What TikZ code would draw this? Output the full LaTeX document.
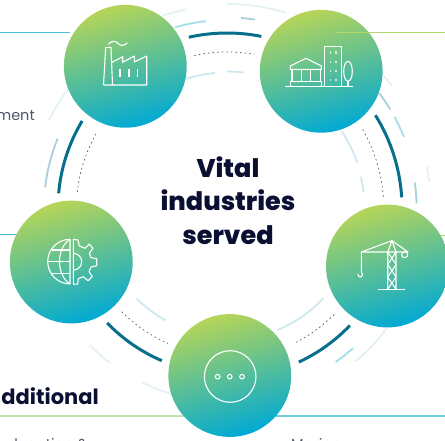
\documentclass[tikz,border=0pt]{standalone}
\usepackage{fontspec}
\setmainfont{Poppins}
\newfontfamily\heavyfont{Poppins ExtraBold}
\definecolor{navy}{HTML}{0B1033}
\definecolor{slate}{HTML}{50556A}
\definecolor{deepteal}{HTML}{076F8C}
\definecolor{faintblue}{HTML}{E4F1F5}
\definecolor{paleblue}{HTML}{CFE7EF}
\definecolor{skyblue}{HTML}{A6DFEA}
\definecolor{greyblue}{HTML}{A9CFDC}
\definecolor{discgreen}{HTML}{B6D558}
\definecolor{discmid}{HTML}{68BC98}
\definecolor{disccyan}{HTML}{00A9D4}
\definecolor{rulecyan}{HTML}{4CC0D8}
\definecolor{rulegreen}{HTML}{B2D66A}
\definecolor{rulepale}{HTML}{C6E1AE}
\definecolor{ruleaqua}{HTML}{6FD0DC}
\tikzset{
  disc/.style={circle,inner sep=0pt,minimum size=122.8pt,
    top color=discgreen,middle color=discmid,bottom color=disccyan,shading angle=16},
  icon/.style={draw=white,line width=1.1pt,line join=round},
  rule/.style={line width=#1},
  bigarc/.style={draw=deepteal,line width=3pt},
  softarc/.style={draw=#1,line width=1.8pt},
  dotarc/.style={draw=slate,line width=0.7pt,dash pattern=on 1.6pt off 3pt},
  cutlabel/.style={inner sep=0pt,text=slate,font=\fontsize{14.5}{17}\selectfont}
}
\begin{document}
\begin{tikzpicture}[x=1pt,y=-1pt]
  \useasboundingbox (0,0) rectangle (445,440);
  \clip (0,0) rectangle (445,440);
  \coordinate (ringc) at (227,208);

  \draw[rule=1pt,color=rulecyan] (0,32.7) -- (70,32.7);
  \draw[rule=1pt,color=rulecyan] (0,234.3) -- (20,234.3);
  \draw[rule=1.4pt,color=rulepale] (0,416) -- (190,416);
  \draw[rule=1.6pt,color=ruleaqua] (270,416) -- (445,416);
  \node[cutlabel,anchor=base east] (mentlabel) at (35,120.7) {ment};
  \node[cutlabel,anchor=base east] (educationlabel) at (88,449) {ducation \&};
  \node[cutlabel,anchor=base west] (marinelabel) at (291,449) {Marine};
  \node[anchor=base east,inner sep=0pt,text=navy,font=\fontsize{21}{25}\selectfont\bfseries] (additionallabel) at (99,404) {dditional};

  \foreach \sa/\ea/\rr in {102.6/78.7/175,32/3.5/175,-43.7/-65/170,223.8/246.9/166,149/175/169}
    \draw[bigarc] ([shift={(\sa:\rr pt)}]ringc) arc[start angle=\sa,end angle=\ea,radius=\rr pt];
  \foreach \sa/\ea/\rr in {102.1/80/156,30/4.1/156.7,-44.8/-63.7/151,224.6/246.5/147.7,150.5/174/150.5}
    \draw[dotarc] ([shift={(\sa:\rr pt)}]ringc) arc[start angle=\sa,end angle=\ea,radius=\rr pt];
  \foreach \sa/\ea/\rr in {108.5/101.5/202.8,90/73.1/204,40/36.6/205,11.7/7.4/204,-36.8/-50.1/200,225/233/194,243.7/253.4/194,153.8/143/198.5}
    \draw[softarc=faintblue] ([shift={(\sa:\rr pt)}]ringc) arc[start angle=\sa,end angle=\ea,radius=\rr pt];
  \foreach \sa/\ea/\rr in {107.7/95/135.5,90/83/136.5,33.8/19.2/138,13.1/6.7/137.5,-43/-67.5/132,225.2/241.3/128}
    \draw[softarc=paleblue] ([shift={(\sa:\rr pt)}]ringc) arc[start angle=\sa,end angle=\ea,radius=\rr pt];
  \foreach \sa/\ea/\rr in {106.1/96.4/188,28.6/21.9/190.7,-48/-54.8/188.5}
    \draw[softarc=skyblue] ([shift={(\sa:\rr pt)}]ringc) arc[start angle=\sa,end angle=\ea,radius=\rr pt];
  \foreach \sa/\ea/\rr in {85.8/81.5/190.5,37/31.1/190.7,7.7/1.4/189.6,157.7/173.5/183}
    \draw[softarc=greyblue] ([shift={(\sa:\rr pt)}]ringc) arc[start angle=\sa,end angle=\ea,radius=\rr pt];

  \node[disc] (factorydisc) at (125.3,66.3) {};
  \node[disc] (citydisc) at (321.2,71.3) {};
  \node[disc] (cranedisc) at (387.4,266) {};
  \node[disc] (globedisc) at (71.3,262) {};
  \node[disc] (moredisc) at (229.8,375.5) {};

  \draw[rule=1pt,color=rulegreen] (335.3,32.7) -- (445,32.7);
  \draw[rule=1pt,color=rulegreen] (440,235) -- (445,235);

  \draw[icon] (103.5,85) -- (105.7,47.3) -- (111,47.3) -- (112.5,85) (103.5,85) -- (146.7,85) -- (146.7,56)
    -- (134.3,62) -- (134.3,56) -- (122.7,62.3) -- (122.7,56.7) -- (112,62.3);
  \draw[icon] (120,69) -- (120,76.7) (129,69) -- (129,76.7) (137.7,69) -- (137.7,76.7);
  \draw[icon] (108.3,44.3) .. controls (112,40) and (116,41) .. (118,43.5) .. controls (120.5,46) and (124.5,46) .. (127.3,42.7);

  \draw[icon] (285.3,86.7) -- (353.3,86.7);
  \draw[icon] (290.3,69.3) -- (290.3,66) -- (306,58.3) -- (321.3,66) -- (321.3,69.3) -- cycle;
  \draw[icon] (292,69.3) -- (292,81.7) (301.3,69.3) -- (301.3,81.7) (310.3,69.3) -- (310.3,81.7) (320.3,69.3) -- (320.3,81.7);
  \draw[icon] (290.3,86.7) rectangle (321.3,81.7);
  \draw[icon] (324.7,86.7) rectangle (341.3,46.7);
  \foreach \wy in {52.7,62,71,80}
    \draw[icon,opacity=0.7] (330.3,\wy-1.3) -- (330.3,\wy+1.3) (336,\wy-1.3) -- (336,\wy+1.3);
  \draw[icon] (348,71.3) ellipse[x radius=4.3pt,y radius=10pt];
  \draw[icon] (348,81.3) -- (348,86.7);

  \draw[icon] (377.7,289.3) -- (405.3,289.3);
  \draw[icon] (387.7,289.3) -- (387.7,252) -- (392,240.7) -- (396,252) -- (396,289.3);
  \draw[icon] (361.3,272.3) -- (361.3,252) -- (392,240.7) -- (408,252) -- (361.3,252);
  \draw[icon] (387.7,252) -- (396,264.5) -- (387.7,277) -- (396,289.3) (396,252) -- (387.7,264.5) -- (396,277) -- (387.7,289.3);
  \draw[icon] (404.7,254.7) circle[radius=3pt];
  \draw[icon] (361.3,272.5) arc[start angle=60,end angle=-200,radius=2.4pt];

  \draw[icon] (70,239.3) arc[start angle=90,end angle=270,radius=22.3pt] -- cycle;
  \draw[icon] (70,239.3) .. controls (56,248) and (56,275) .. (70,284);
  \draw[icon] (52,250) -- (70,250) (52,273.3) -- (70,273.3);
  \draw[icon] (47.7,261.7) -- (70,261.7);
  \draw[icon] (73.3,239.3) -- (78,240) -- (79.3,246) -- (85,248.3) -- (89.3,244) -- (93,248.3) -- (89.3,253.3)
    -- (91,257.7) -- (96.7,258.7) -- (96.7,265.7) -- (91,267) -- (89,271.7) -- (92.3,276.7) -- (88,280.7)
    -- (83.3,276.7) -- (78.3,278.7) -- (77.7,284) -- (73.3,284.3) -- cycle;
  \draw[icon] (73.3,253.3) arc[start angle=90,end angle=-90,radius=8.4pt];

  \draw[icon] (230.2,376.5) circle[radius=25.8pt];
  \foreach \dx in {217.7,229.7,242}
    \draw[icon] (\dx,376.7) circle[radius=2.3pt];

  \node[align=center,text=navy,font=\fontsize{25.5}{33.5}\selectfont\heavyfont] (ringtitle) at (228,200.5) {Vital\\industries\\served};
\end{tikzpicture}
\end{document}
